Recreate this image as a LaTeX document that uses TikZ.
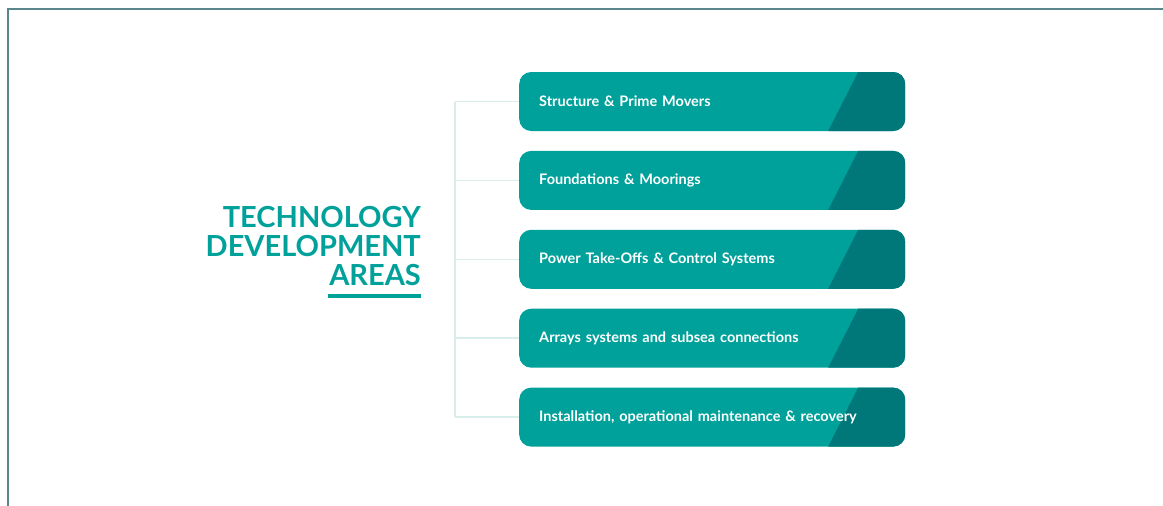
\documentclass[tikz,border=0pt]{standalone}
\usepackage{fontspec}
\setmainfont{Lato}
\usetikzlibrary{positioning}
\definecolor{areateal}{HTML}{00A19A}
\definecolor{areadark}{HTML}{00787A}
\definecolor{branchgrey}{HTML}{D8EEEB}
\definecolor{framegrey}{HTML}{5A868C}
\tikzset{
	node distance = 19.5pt,
	area/.style={
		fill=areateal,
		rounded corners=12pt,
		minimum width=386pt,
		minimum height=59pt,
		inner xsep=20pt,
		inner ysep=0pt,
		text width=346pt,
		align=left,
		text=white,
		font=\bfseries\fontsize{14.5}{16}\selectfont,
		path picture={
			\fill[areadark, sharp corners] ([xshift=-47pt]path picture bounding box.north east)
				-- (path picture bounding box.north east)
				-- (path picture bounding box.south east)
				-- ([xshift=-77pt]path picture bounding box.south east) -- cycle;
		}
	},
	branch/.style={
		draw=branchgrey,
		line width=1.5pt
	},
	title/.style={
		align=right,
		text=areateal,
		inner sep=0pt,
		font=\bfseries\fontsize{29}{29}\selectfont
	}
}

\begin{document}
\begin{tikzpicture}[x=1pt, y=-1pt]
	\useasboundingbox (0,0) rectangle (1163,506);
	% frame
	\draw[framegrey, line width=1.5pt] (8,506) -- (8,9) -- (1163,9);
	% title
	\node[title, anchor=east] (heading) at (421,246) {TECHNOLOGY\\DEVELOPMENT\\AREAS};
	\draw[areateal, line width=4pt] (328,296) -- (421,296);
	% areas
	\node[area, anchor=west] at (519,101.5) (a1) {Structure \& Prime Movers};
	\node[area, below=of a1] (a2) {Foundations \& Moorings};
	\node[area, below=of a2] (a3) {Power Take-Offs \& Control Systems};
	\node[area, below=of a3] (a4) {Arrays systems and subsea connections};
	\node[area, below=of a4] (a5) {Installation, operational maintenance \& recovery};
	% branches
	\coordinate (trunk) at (455,0);
	\draw[branch] (trunk |- a1.west) -- (trunk |- a5.west);
	\foreach \i in {1,...,5}
		\draw[branch] (trunk |- a\i.west) -- (a\i.west);
\end{tikzpicture}
\end{document}
